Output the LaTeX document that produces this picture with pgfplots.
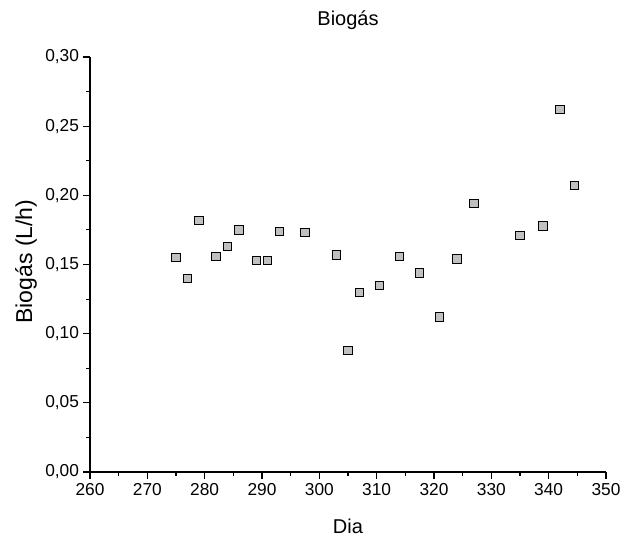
\documentclass[border=0pt]{standalone}
\usepackage{pgfplots}
\pgfplotsset{compat=1.18}
\usepackage{fontspec}
\setmainfont{Liberation Sans}
\definecolor{mk}{RGB}{192,192,192}
\begin{document}
\begin{tikzpicture}
\path[use as bounding box] (-90bp,-64bp) rectangle (534bp,472bp);
\begin{axis}[
  at={(0,0)}, anchor=south west,
  scale only axis,
  width=516bp, height=415bp,
  xmin=260, xmax=350, ymin=0, ymax=0.30,
  axis lines*=left,
  axis line style={line width=1.2bp, -},
  every tick/.style={black, line width=1.1bp},
  tick align=outside,
  major tick length=7bp,
  minor tick length=3.5bp,
  minor tick num=1,
  xtick={260,270,280,290,300,310,320,330,340,350},
  ytick={0,0.05,0.10,0.15,0.20,0.25,0.30},
  /pgf/number format/assume math mode=true,
  yticklabel style={/pgf/number format/fixed, /pgf/number format/fixed zerofill, /pgf/number format/precision=2, /pgf/number format/use comma, xshift=-0.5bp},
  xticklabel style={/pgf/number format/fixed, /pgf/number format/precision=0, /pgf/number format/1000 sep={}, yshift=-0.5bp},
  tick label style={font=\fontsize{17.3bp}{20bp}\selectfont},
  title={Biogás},
  title style={at={(axis description cs:0.5,1.0747)}, anchor=center, font=\fontsize{20bp}{23bp}\selectfont},
  xlabel={Dia},
  xlabel style={at={(axis description cs:0.5,-0.1470)}, anchor=base, font=\fontsize{20bp}{23bp}\selectfont},
  ylabel={Biogás (L/h)},
  ylabel style={at={(axis description cs:-0.1240,0.507)}, anchor=center, font=\fontsize{23bp}{26bp}\selectfont},
  clip=false,
]
\addplot[only marks, mark=square*, mark size=4.2bp,
  mark options={fill=mk, draw=black, line width=0.9bp}]
coordinates {
(275.0,0.155)
(277.0,0.140)
(279.0,0.182)
(282.0,0.156)
(284.0,0.163)
(286.0,0.175)
(289.0,0.153)
(291.0,0.153)
(293.0,0.174)
(297.5,0.173)
(303.0,0.157)
(305.0,0.088)
(307.0,0.130)
(310.5,0.135)
(314.0,0.156)
(317.5,0.144)
(321.0,0.112)
(324.0,0.154)
(327.0,0.194)
(335.0,0.171)
(339.0,0.178)
(342.0,0.262)
(344.5,0.207)
};
\end{axis}
\end{tikzpicture}
\end{document}
